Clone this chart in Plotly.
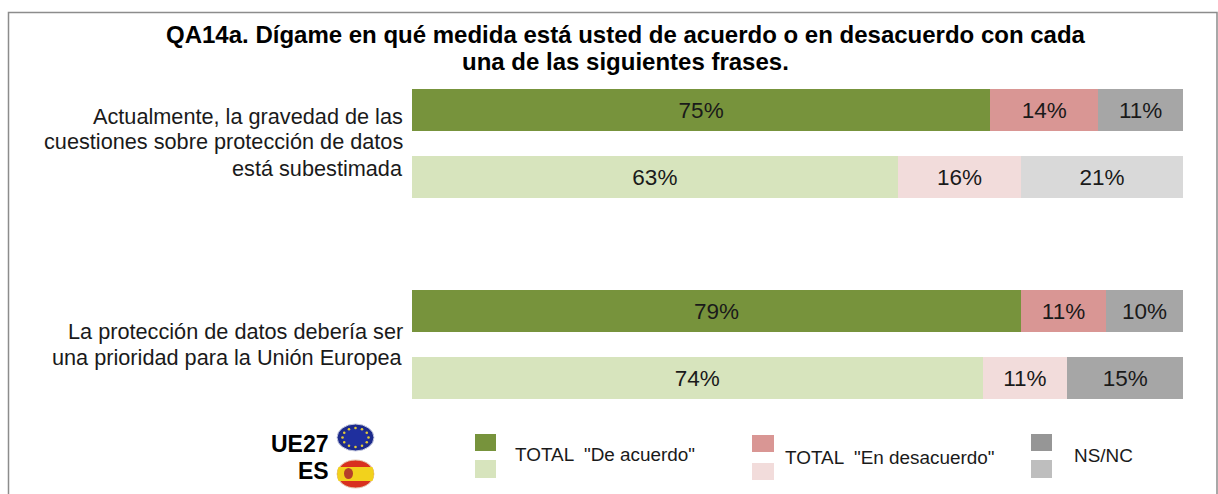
import math
import plotly.graph_objects as go

W, H = 1218, 494

rows = ["q1_ue27", "q1_es", "blank", "q2_ue27", "q2_es"]
agree = [75, 63, None, 79, 74]
disagree = [14, 16, None, 11, 11]
dk = [11, 21, None, 10, 15]
agree_colors = ["#77933C", "#D7E4BD", "#FFFFFF", "#77933C", "#D7E4BD"]
disagree_colors = ["#D99694", "#F2DCDB", "#FFFFFF", "#D99694", "#F2DCDB"]
dk_colors = ["#A6A6A6", "#D9D9D9", "#FFFFFF", "#A6A6A6", "#A6A6A6"]

title_lines = ["QA14a. Dígame en qué medida está usted de acuerdo o en desacuerdo con cada",
               "una de las siguientes frases."]
label_1 = ["Actualmente, la gravedad de las", "cuestiones sobre protección de datos", "está subestimada"]
label_2 = ["La protección de datos debería ser", "una prioridad para la Unión Europea"]

FONT = "Liberation Sans"
TXT = "#1A1A1A"


def px(x):
    return x / W


def py(y):
    return 1 - y / H


fig = go.Figure()
for name, vals, cols in [("TOTAL \"De acuerdo\"", agree, agree_colors),
                         ("TOTAL \"En desacuerdo\"", disagree, disagree_colors),
                         ("NS/NC", dk, dk_colors)]:
    fig.add_trace(go.Bar(
        y=rows, x=vals, orientation="h", name=name,
        marker=dict(color=cols, line=dict(width=0)),
        text=[f"{v}%" if v is not None else "" for v in vals],
        textposition="inside", insidetextanchor="middle", textangle=0,
        insidetextfont=dict(family=FONT, size=22.5, color=TXT),
        constraintext="none", showlegend=False, hoverinfo="skip",
    ))

shapes = []
# Frame
shapes.append(dict(type="path", xref="paper", yref="paper",
                   path=f"M {px(8.5)} {py(494)} L {px(8.5)} {py(12.5)} L {px(1217)} {py(12.5)} L {px(1217)} {py(494)}",
                   line=dict(color="#8C8C8C", width=1.5), layer="below"))


def rect(x0, y0, x1, y1, color):
    shapes.append(dict(type="rect", xref="paper", yref="paper",
                       x0=px(x0), x1=px(x1), y0=py(y0), y1=py(y1),
                       fillcolor=color, line=dict(width=0)))


def ell(x0, y0, x1, y1, color, lc=None, lw=0):
    shapes.append(dict(type="circle", xref="paper", yref="paper",
                       x0=px(x0), x1=px(x1), y0=py(y0), y1=py(y1),
                       fillcolor=color, line=dict(width=lw, color=lc or color)))


# Legend swatches
rect(475, 434, 496, 451, "#77933C")
rect(475, 460, 496, 478, "#D7E4BD")
rect(752, 435, 774, 452, "#D99694")
rect(752, 463, 774, 480, "#F2DCDB")
rect(1031, 434, 1052, 451, "#969696")
rect(1031, 460, 1052, 478, "#BEBEBE")

# EU flag
ell(337, 424, 374, 451, "#1C2A8C", "#C8CCE0", 1)
ell(343, 428, 368, 447, "#1F2F9E")
for k in range(12):
    a = 2 * math.pi * k / 12
    cx, cy = 355.5 + 13 * math.cos(a), 437.5 + 9.5 * math.sin(a)
    ell(cx - 1.3, cy - 1.3, cx + 1.3, cy + 1.3, "#E3C93A")

# Spanish flag
ell(337, 460, 374, 488, "#D8301F", "#E6C9B0", 1)
shapes.append(dict(type="path", xref="paper", yref="paper",
                   path=(f"M {px(338.5)} {py(467)} L {px(372.5)} {py(467)} "
                         f"Q {px(375)} {py(474)} {px(372.5)} {py(481)} "
                         f"L {px(338.5)} {py(481)} Q {px(336)} {py(474)} {px(338.5)} {py(467)} Z"),
                   fillcolor="#F2D21C", line=dict(width=0)))
ell(344, 468, 353, 479, "#B5402A")

annotations = []
for line, y in zip(title_lines, [35, 62]):
    annotations.append(dict(text=line, x=px(625.5), y=py(y), xanchor="center", yanchor="middle",
                            font=dict(size=24, color="#000000", weight="bold")))
for line, y in zip(label_1, [116, 142, 168]):
    annotations.append(dict(text=line, x=px(404.5), y=py(y), xanchor="right", yanchor="middle",
                            font=dict(size=21.7, color=TXT)))
for line, y in zip(label_2, [331, 357]):
    annotations.append(dict(text=line, x=px(404.5), y=py(y), xanchor="right", yanchor="middle",
                            font=dict(size=21.7, color=TXT)))
annotations += [
    dict(text="UE27", x=px(331), y=py(444), xanchor="right", yanchor="middle",
         font=dict(size=23, color="#000000", weight="bold")),
    dict(text="ES", x=px(331), y=py(471), xanchor="right", yanchor="middle",
         font=dict(size=23, color="#000000", weight="bold")),
    dict(text="TOTAL  \"De acuerdo\"", x=px(513), y=py(454), xanchor="left", yanchor="middle",
         font=dict(size=18.9, color=TXT)),
    dict(text="TOTAL  \"En desacuerdo\"", x=px(783), y=py(457), xanchor="left", yanchor="middle",
         font=dict(size=18.9, color=TXT)),
    dict(text="NS/NC", x=px(1072), y=py(455), xanchor="left", yanchor="middle",
         font=dict(size=18.9, color=TXT)),
]
for a in annotations:
    a.update(xref="paper", yref="paper", showarrow=False)
    a["font"]["family"] = FONT

fig.update_layout(
    width=W, height=H, margin=dict(l=0, r=0, t=0, b=0),
    paper_bgcolor="white", plot_bgcolor="white",
    barmode="stack", bargap=0.38, showlegend=False,
    font=dict(family=FONT, color=TXT),
    xaxis=dict(domain=[px(412), px(1183)], range=[0, 100], visible=False, fixedrange=True),
    yaxis=dict(domain=[py(411.5), py(76.5)], autorange="reversed", visible=False,
               categoryorder="array", categoryarray=rows, fixedrange=True),
    shapes=shapes, annotations=annotations,
)

fig.write_html("out.html", config=dict(displayModeBar=False),
               post_script="document.body.style.margin='0';")
